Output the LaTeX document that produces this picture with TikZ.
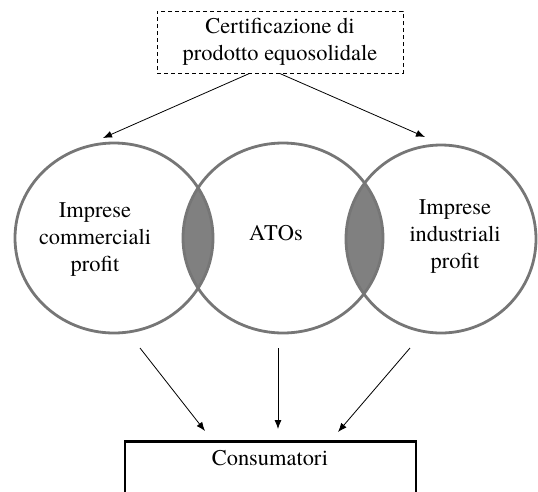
\documentclass[tikz,border=0pt]{standalone}
\usepackage{fontspec}
\IfFontExistsTF{texgyretermes-regular.otf}
  {\newfontfamily\labelfont{texgyretermes-regular.otf}
   \newcommand\labelsize{\fontsize{22.4}{27}\selectfont}}
  {\newfontfamily\labelfont{Latin Modern Roman}
   \newcommand\labelsize{\fontsize{22.6}{27}\selectfont}}
\usetikzlibrary{arrows.meta,shapes.geometric}
\definecolor{ringgray}{RGB}{118,118,118}
\definecolor{lensgray}{RGB}{128,128,128}

\begin{document}
\begin{tikzpicture}[x=1pt,y=-1pt,
  lbl/.style={font=\labelfont\labelsize, align=center, inner sep=0pt},
  ring/.style={draw=ringgray, line width=2.8pt},
  arr/.style={-{Latex[length=9pt,width=7pt]}, line width=0.8pt},
]
\useasboundingbox (0,0) rectangle (538,491);
\clip (0,0) rectangle (538,491);

% centres of the three sets
\coordinate (cL) at (114,238);
\coordinate (cM) at (283,238);
\coordinate (cR) at (441,239);

% shaded overlaps
\begin{scope}
  \clip (cL) ellipse [x radius=99, y radius=95];
  \fill[lensgray] (cM) ellipse [x radius=100, y radius=95];
\end{scope}
\begin{scope}
  \clip (cM) ellipse [x radius=100, y radius=95];
  \fill[lensgray] (cR) ellipse [x radius=95, y radius=94];
\end{scope}

% the three sets
\draw[ring] (cL) ellipse [x radius=99, y radius=95];
\draw[ring] (cM) ellipse [x radius=100, y radius=95];
\draw[ring] (cR) ellipse [x radius=95, y radius=94];

% labels
\node[lbl] (commerciali) at (95,240) {Imprese\\commerciali\\profit};
\node[lbl] (atos) at (276,233) {ATOs};
\node[lbl] (industriali) at (455,237) {Imprese\\industriali\\profit};

% certification box
\node[lbl, draw, dashed, dash pattern=on 4pt off 3pt, line width=0.8pt,
      minimum width=246pt, minimum height=62pt] (cert) at (280,42)
      {Certificazione di\\prodotto equosolidale};

% consumers box
\node[draw, line width=2.6pt, minimum width=291pt, minimum height=80pt,
      anchor=north, inner sep=0pt] (cons) at (270.5,440) {};
\node[lbl] (consText) at (270,458) {Consumatori};

% arrow end points
\coordinate (tL) at (103,138);
\coordinate (tR) at (425,137);
\coordinate (bL) at (140,348);
\coordinate (bM) at (278,348);
\coordinate (bR) at (410,348);
\coordinate (eL) at (205,431);
\coordinate (eM) at (278,429);
\coordinate (eR) at (338,432);

\draw[arr] (cert.south west) ++(93,0) coordinate (sL) -- (tL);
\draw[arr] (cert.south west) ++(123,0) coordinate (sR) -- (tR);
\draw[arr] (bL) -- (eL);
\draw[arr] (bM) -- (eM);
\draw[arr] (bR) -- (eR);
\end{tikzpicture}
\end{document}
